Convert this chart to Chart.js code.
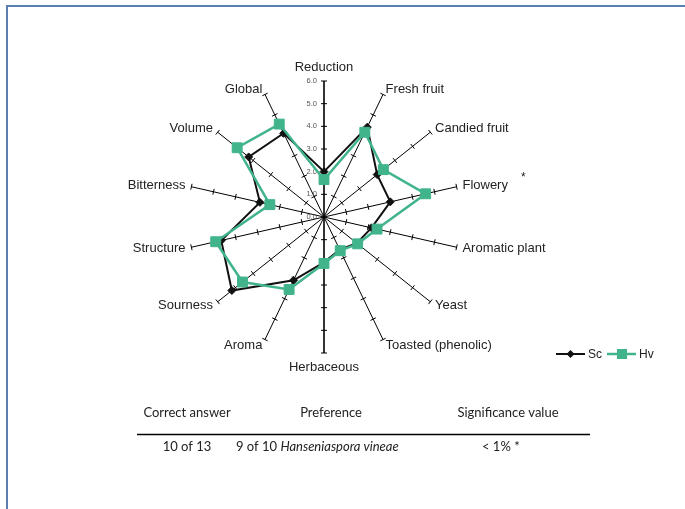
<!DOCTYPE html>
<html>
<head>
<meta charset="utf-8">
<title>Sensory profile: Sc vs Hv</title>
<script src="https://cdn.jsdelivr.net/npm/chart.js@4.4.1/dist/chart.umd.min.js"></script>
<style>
  html, body { margin: 0; padding: 0; background: #ffffff; }
  #wrap { position: relative; width: 685px; height: 509px; overflow: hidden; background: #ffffff; }
  #frame {
    position: absolute; left: 6px; top: 5px; width: 720px; height: 502px;
    border-left: 2px solid #5b7fb0; border-top: 2px solid #5b7fb0;
    border-bottom: 1px solid #e2e3e8;
  }
  #c { position: absolute; left: 0; top: 0; }
</style>
</head>
<body>
<div id="wrap">
  <div id="frame"></div>
  <canvas id="c" width="685" height="509"></canvas>
</div>
<script>
// Sensory attributes (spokes, clockwise from the top)
const attributes = [
  'Reduction', 'Fresh fruit', 'Candied fruit', 'Flowery', 'Aromatic plant',
  'Yeast', 'Toasted (phenolic)', 'Herbaceous', 'Aroma', 'Sourness',
  'Structure', 'Bitterness', 'Volume', 'Global'
];

// Mean panel scores per attribute
const scValues = [2.0, 4.4, 3.0, 3.0, 2.15, 1.85, 1.6, 2.0, 3.1, 5.2, 4.65, 2.9, 4.25, 4.1];
const hvValues = [1.65, 4.15, 3.35, 4.6, 2.4, 1.9, 1.65, 2.05, 3.55, 4.6, 4.9, 2.45, 4.9, 4.55];

// Scale tick values
const scaleTicks = [0, 1, 2, 3, 4, 5, 6];

// Series names
const seriesNames = ['Sc', 'Hv'];

// Triangle test summary
const tableHeader = ['Correct answer', 'Preference', 'Significance value'];
const tableCorrect = '10 of 13';
const tablePrefCount = '9 of 10 ';
const tablePrefSpecies = 'Hanseniaspora vineae';
const tableSignificance = '< 1% *';

// Attribute flagged as significant
const significantAttribute = 'Flowery';

const SC_COLOR = '#111111';
const HV_COLOR = '#41b48b';
const LABEL_FONT = '13px "Liberation Sans", Arial, sans-serif';
const TABLE_FONT = '13px Lato, "Open Sans", sans-serif';

const decorations = {
  id: 'decorations',
  beforeDatasetsDraw(chart) {
    const s = chart.scales.r;
    const ctx = chart.ctx;
    ctx.save();
    // cross ticks on every spoke
    ctx.strokeStyle = '#000';
    ctx.lineWidth = 1;
    attributes.forEach((_, i) => {
      const a = s.getIndexAngle(i) - Math.PI / 2;
      const nx = -Math.sin(a), ny = Math.cos(a);
      scaleTicks.slice(1).forEach(v => {
        const p = s.getPointPosition(i, s.getDistanceFromCenterForValue(v));
        ctx.beginPath();
        ctx.moveTo(p.x - nx * 3, p.y - ny * 3);
        ctx.lineTo(p.x + nx * 3, p.y + ny * 3);
        ctx.stroke();
      });
    });
    // value labels beside the first spoke
    ctx.font = '7.5px "Liberation Sans", Arial, sans-serif';
    ctx.fillStyle = '#555';
    ctx.textAlign = 'right';
    ctx.textBaseline = 'middle';
    scaleTicks.forEach(v => {
      const p = s.getPointPosition(0, s.getDistanceFromCenterForValue(v));
      ctx.fillText(v.toFixed(1), p.x - 7, p.y);
    });
    ctx.restore();
  },
  afterDraw(chart) {
    const s = chart.scales.r;
    const ctx = chart.ctx;
    const n = attributes.length;
    const outer = s.getDistanceFromCenterForValue(scaleTicks[scaleTicks.length - 1]);
    ctx.save();

    // attribute labels at the ends of the spokes
    ctx.font = LABEL_FONT;
    ctx.fillStyle = '#222';
    ctx.textBaseline = 'middle';
    attributes.forEach((label, i) => {
      const p = s.getPointPosition(i, outer + 6);
      let y = p.y;
      if (i === 0) { ctx.textAlign = 'center'; y -= 8; }
      else if (i * 2 === n) { ctx.textAlign = 'center'; y += 8; }
      else if (i < n / 2) ctx.textAlign = 'left';
      else ctx.textAlign = 'right';
      ctx.fillText(label, p.x, y);
      if (label === significantAttribute) {
        const w = ctx.measureText(label).width;
        ctx.textAlign = 'left';
        ctx.font = '12px "Liberation Sans", Arial, sans-serif';
        ctx.fillText('*', p.x + w + 13, y - 8);
        ctx.font = LABEL_FONT;
      }
    });

    // legend
    const ly = 354;
    ctx.lineWidth = 2;
    ctx.strokeStyle = SC_COLOR;
    ctx.beginPath(); ctx.moveTo(556, ly); ctx.lineTo(585, ly); ctx.stroke();
    ctx.fillStyle = SC_COLOR;
    ctx.beginPath();
    ctx.moveTo(570.5, ly - 4); ctx.lineTo(574.5, ly); ctx.lineTo(570.5, ly + 4); ctx.lineTo(566.5, ly);
    ctx.closePath(); ctx.fill();
    ctx.strokeStyle = HV_COLOR;
    ctx.lineWidth = 2.5;
    ctx.beginPath(); ctx.moveTo(607, ly); ctx.lineTo(636, ly); ctx.stroke();
    ctx.fillStyle = HV_COLOR;
    ctx.fillRect(617, ly - 5, 10, 10);
    ctx.fillStyle = '#222';
    ctx.font = '12px "Liberation Sans", Arial, sans-serif';
    ctx.textAlign = 'left';
    ctx.fillText(seriesNames[0], 588, ly + 1);
    ctx.fillText(seriesNames[1], 639, ly + 1);

    // summary table
    ctx.font = TABLE_FONT;
    ctx.fillStyle = '#222';
    ctx.textAlign = 'center';
    ctx.fillText(tableHeader[0], 187, 413);
    ctx.fillText(tableHeader[1], 331, 413);
    ctx.fillText(tableHeader[2], 508, 413);
    ctx.strokeStyle = '#000';
    ctx.lineWidth = 1.5;
    ctx.beginPath(); ctx.moveTo(137, 434.5); ctx.lineTo(590, 434.5); ctx.stroke();
    ctx.fillText(tableCorrect, 187, 447);
    ctx.textAlign = 'left';
    ctx.fillText(tablePrefCount, 236, 447);
    const w1 = ctx.measureText(tablePrefCount).width;
    ctx.font = 'italic ' + TABLE_FONT;
    ctx.fillText(tablePrefSpecies, 236 + w1, 447);
    ctx.font = TABLE_FONT;
    ctx.fillText(tableSignificance, 482, 447);

    ctx.restore();
  }
};

new Chart(document.getElementById('c'), {
  type: 'radar',
  data: {
    labels: attributes,
    datasets: [
      {
        label: seriesNames[0],
        data: scValues,
        order: 1,
        borderColor: SC_COLOR,
        backgroundColor: SC_COLOR,
        borderWidth: 2,
        fill: false,
        pointStyle: 'rectRot',
        pointRadius: 4,
        pointBorderWidth: 1,
        pointBackgroundColor: SC_COLOR,
        pointBorderColor: SC_COLOR
      },
      {
        label: seriesNames[1],
        data: hvValues,
        order: 0,
        borderColor: HV_COLOR,
        backgroundColor: HV_COLOR,
        borderWidth: 2.5,
        fill: false,
        pointStyle: 'rect',
        pointRadius: 7,
        pointBorderWidth: 1,
        pointBackgroundColor: HV_COLOR,
        pointBorderColor: HV_COLOR
      }
    ]
  },
  options: {
    responsive: false,
    animation: false,
    devicePixelRatio: 1,
    layout: { padding: { left: 188, right: 225, top: 81, bottom: 156 } },
    plugins: { legend: { display: false }, tooltip: { enabled: false } },
    scales: {
      r: {
        min: 0,
        max: 6,
        startAngle: 0,
        grid: { display: false },
        angleLines: {
          display: true,
          color: '#000',
          lineWidth: (ctx) => (ctx.index === 0 || ctx.index * 2 === attributes.length) ? 1.6 : 1
        },
        ticks: { display: false, stepSize: 1 },
        pointLabels: { display: false }
      }
    }
  },
  plugins: [decorations]
});
</script>
</body>
</html>
